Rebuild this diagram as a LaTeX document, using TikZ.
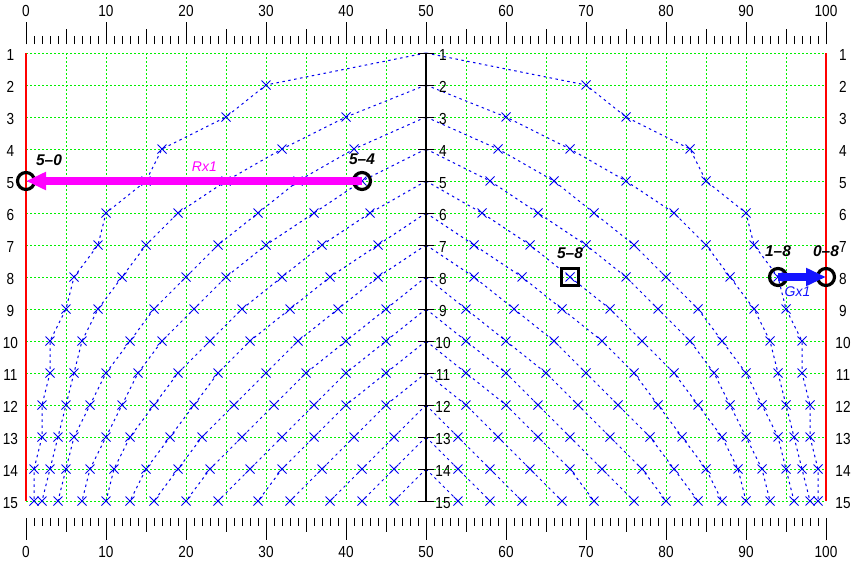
\documentclass[tikz,border=0pt]{standalone}
\usepackage{fontspec}
\setmainfont{Liberation Sans}
\newfontfamily\numfont[FakeStretch=0.85]{Liberation Sans}
\usetikzlibrary{arrows.meta}
\definecolor{gridgreen}{RGB}{0,240,0}
\definecolor{curveblue}{RGB}{0,0,240}
\definecolor{movemag}{RGB}{255,0,255}
\definecolor{moveblue}{RGB}{20,20,255}

\begin{document}
\begin{tikzpicture}
  [x=8pt,y=-32pt,
   gridln/.style={gridgreen,dash pattern=on 2pt off 2pt,line width=1pt},
   bcurve/.style={curveblue,dash pattern=on 2.5pt off 3.5pt,line width=1pt},
   xpt/.style={curveblue,line width=0.9pt},
   num/.style={font=\numfont\fontsize{16}{16}\selectfont,inner sep=0pt},
   ring/.style={draw,circle,line width=3.2pt,minimum size=17pt,inner sep=0pt},
   box/.style={draw,rectangle,line width=3.2pt,minimum size=16.5pt,inner sep=0pt},
   tag/.style={font=\bfseries\itshape\fontsize{15.5}{15.5}\selectfont,inner sep=0pt},
   mvlbl/.style={font=\itshape\fontsize{14}{14}\selectfont,inner sep=0pt},
   mv/.style={line width=8pt,-{Triangle[length=20pt,width=17pt]}}]
  \useasboundingbox[fill=white] (-3.25,-0.65625) rectangle (103.375,16.9375);

  % grid
  \foreach \r in {1,...,15}
    \draw[gridln] (0,\r) -- (100,\r);
  \foreach \x in {5,10,...,95}
    \draw[gridln] (\x,1) -- (\x,15);
  \draw[red,line width=2pt] (0,1) -- (0,15);
  \draw[red,line width=2pt] (100,1) -- (100,15);

  % rulers
  \foreach \x in {0,...,100} {
    \draw[line width=1pt] (\x,0.71875) -- ++(0pt,8pt);
    \draw[line width=1pt] (\x,15.53125) -- ++(0pt,-8pt);
  }
  \foreach \x in {0,5,...,100} {
    \draw[line width=1pt] (\x,0.71875) -- ++(0pt,15pt);
    \draw[line width=1pt] (\x,15.53125) -- ++(0pt,-14pt);
  }
  \foreach \x in {0,10,...,100} {
    \draw[line width=1pt] (\x,0.71875) -- ++(0pt,22pt);
    \draw[line width=1pt] (\x,15.53125) -- ++(0pt,-22pt);
    \node[num] (top\x) at (\x,-0.3125) {\x};
    \node[num] (bot\x) at (\x,16.59375) {\x};
  }

  % curves from each apex, offsets from the middle for rows below it
  \foreach \k/\offs in {1/{20,25,33,35,40,41,44,45,47,47,48,48,49,49},
                        2/{10,18,25,31,35,38,41,43,44,45,46,47,48},
                        3/{9,16,21,26,30,34,37,40,42,44,45,46},
                        4/{8,14,20,25,29,33,36,38,40,42,43},
                        5/{7,13,18,23,27,31,34,37,39,40},
                        6/{6,12,17,22,26,29,32,35,37},
                        7/{6,11,16,20,24,28,31,34},
                        8/{5,10,15,19,23,27,30},
                        9/{5,10,14,18,22,26},
                        10/{5,10,14,18,21},
                        11/{5,9,13,17},
                        12/{4,8,12},
                        13/{4,8},
                        14/{4}} {
    \draw[bcurve] (50,\k) \foreach \o [count=\i] in \offs {-- (50-\o,\k+\i)};
    \draw[bcurve] (50,\k) \foreach \o [count=\i] in \offs {-- (50+\o,\k+\i)};
    \foreach \o [count=\i] in \offs {
      \draw[xpt] (50-\o,\k+\i) +(-4.5pt,-4.5pt) -- +(4.5pt,4.5pt) +(-4.5pt,4.5pt) -- +(4.5pt,-4.5pt);
      \draw[xpt] (50+\o,\k+\i) +(-4.5pt,-4.5pt) -- +(4.5pt,4.5pt) +(-4.5pt,4.5pt) -- +(4.5pt,-4.5pt);
    }
  }

  % middle axis
  \draw[line width=1.2pt] (50,1) -- (50,15);
  \foreach \r in {1,...,15} {
    \draw[line width=1pt] (50,\r) +(-8pt,0) -- +(8pt,0);
    \node[num] (ml\r) at ([yshift=-2pt]52.125,\r) {\r};
    \node[num] (ll\r) at ([yshift=-2pt]-1.9375,\r) {\r};
    \node[num] (rl\r) at ([yshift=-2pt]102.125,\r) {\r};
  }

  % marked points
  \node[ring] (c50) at (0,5) {};
  \node[ring] (c54) at (42,5) {};
  \node[box] (s58) at (68,8) {};
  \node[ring] (c18) at (94,8) {};
  \node[ring] (c08) at (100,8) {};
  \node[tag] (t50) at ([shift={(23pt,21pt)}]c50) {5--0};
  \node[tag] (t54) at ([yshift=22pt]c54) {5--4};
  \node[tag] (t58) at ([yshift=24pt]s58) {5--8};
  \node[tag] (t18) at ([yshift=26pt]c18) {1--8};
  \node[tag] (t08) at ([yshift=26pt]c08) {0--8};

  % moves
  \draw[mv,movemag] (c54.center) -- (c50.center);
  \draw[mv,moveblue] (c18.center) -- (c08.center);
  \node[mvlbl,movemag] (rx) at (22.3,4.5625) {Rx1};
  \node[mvlbl,moveblue] (gx) at (96.44,8.46) {Gx1};
\end{tikzpicture}
\end{document}
